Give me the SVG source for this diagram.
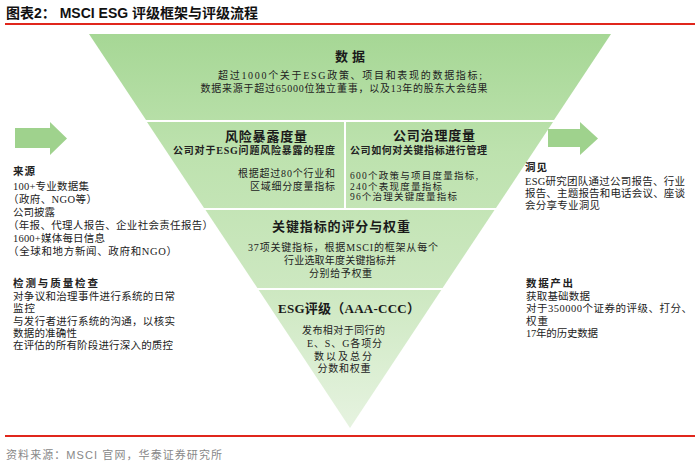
<svg xmlns="http://www.w3.org/2000/svg" width="700" height="463" viewBox="0 0 700 463">
<defs>
<linearGradient id="g" gradientUnits="userSpaceOnUse" x1="0" y1="34" x2="0" y2="428">
<stop offset="0" stop-color="#a6d795"/>
<stop offset="0.3" stop-color="#bde2ae"/>
<stop offset="0.65" stop-color="#cde8c1"/>
<stop offset="1" stop-color="#e6f3e0"/>
</linearGradient>
<style>
.t{font-family:"Liberation Serif","Noto Sans CJK SC",serif;fill:#222;font-size:10px}
.h{font-family:"Liberation Serif","Noto Sans CJK SC",serif;fill:#1a1a1a;font-size:13px;font-weight:bold}
.b{font-weight:bold}
.c{text-anchor:middle}
.band{fill:url(#g)}
.arrow{fill:#9fd28d}
.red{stroke:#e0261c;stroke-width:2}
</style>
</defs>
<text x="6" y="18" style="font-family:'Liberation Sans','Noto Sans CJK SC',sans-serif;font-size:14px;font-weight:bold;fill:#111">图表2：  MSCI ESG 评级框架与评级流程</text>
<line class="red" x1="5" y1="24" x2="695" y2="24"/>

<g id="band1">
<polygon class="band" points="89,34 611,34 554,120 146,120"/>
<text class="h c" x="350" y="61" textLength="30" lengthAdjust="spacing">数据</text>
<text class="t c" x="350" y="79" textLength="264" lengthAdjust="spacing">超过1000个关于ESG政策、项目和表现的数据指标;</text>
<text class="t c" x="344" y="92" textLength="287" lengthAdjust="spacing">数据来源于超过65000位独立董事，以及13年的股东大会结果</text>
</g>
<g id="band2-left">
<polygon class="band" points="147,122 344,122 344,208 204,208"/>
<text class="h c" x="266" y="141" textLength="82" lengthAdjust="spacing">风险暴露度量</text>
<text class="t b" x="173" y="154" textLength="162" lengthAdjust="spacing">公司对于ESG问题风险暴露的程度</text>
<text class="t" x="238" y="177" textLength="97" lengthAdjust="spacing">根据超过80个行业和</text>
<text class="t" x="250" y="190" textLength="85" lengthAdjust="spacing">区域细分度量指标</text>
</g>
<g id="band2-right">
<polygon class="band" points="346,122 553,122 496,208 346,208"/>
<text class="h c" x="434" y="140" textLength="82" lengthAdjust="spacing">公司治理度量</text>
<text class="t b" x="350" y="154" textLength="137" lengthAdjust="spacing">公司如何对关键指标进行管理</text>
<text class="t" x="350" y="179" style="font-size:9.5px" textLength="128" lengthAdjust="spacing">600个政策与项目度量指标,</text>
<text class="t" x="350" y="189.5" style="font-size:9.5px" textLength="92" lengthAdjust="spacing">240个表现度量指标</text>
<text class="t" x="350" y="200" style="font-size:9.5px" textLength="107" lengthAdjust="spacing">96个治理关键度量指标</text>
</g>
<g id="band3">
<polygon class="band" points="205.5,210 494.5,210 442.6,288 257.4,288"/>
<text class="h c" x="341" y="231" textLength="138" lengthAdjust="spacing">关键指标的评分与权重</text>
<text class="t c" x="343" y="251" textLength="190" lengthAdjust="spacing">37项关键指标，根据MSCI的框架从每个</text>
<text class="t c" x="340" y="264" textLength="112" lengthAdjust="spacing">行业选取年度关键指标并</text>
<text class="t c" x="340.5" y="277" textLength="63" lengthAdjust="spacing">分别给予权重</text>
</g>
<g id="band4">
<polygon class="band" points="258.7,290 441.3,290 350,428"/>
<text class="h c" x="349" y="313" textLength="142" lengthAdjust="spacing">ESG评级（AAA-CCC）</text>
<text class="t c" x="343.5" y="334" textLength="83" lengthAdjust="spacing">发布相对于同行的</text>
<text class="t c" x="344.5" y="347" textLength="75" lengthAdjust="spacing">E、S、G各项分</text>
<text class="t c" x="343" y="360" textLength="58" lengthAdjust="spacing">数以及总分</text>
<text class="t c" x="344" y="372" textLength="53" lengthAdjust="spacing">分数和权重</text>
</g>

<g id="arrow-left">
<polygon class="arrow" points="15,128 50,128 50,122 67,138.5 50,155 50,148 15,148"/>
</g>
<g id="arrow-right">
<polygon class="arrow" points="548,129 580,129 580,122 598,138.5 580,155 580,147 548,147"/>
</g>

<g id="sources" class="t" style="font-size:10.5px">
<text x="13" y="175" class="b" textLength="22" lengthAdjust="spacing">来源</text>
<text x="13" y="190" textLength="76" lengthAdjust="spacing">100+专业数据集</text>
<text x="8" y="203" textLength="89" lengthAdjust="spacing">（政府、NGO等）</text>
<text x="13" y="216" textLength="42" lengthAdjust="spacing">公司披露</text>
<text x="8" y="229" textLength="205" lengthAdjust="spacing">（年报、代理人报告、企业社会责任报告）</text>
<text x="13" y="242" textLength="92" lengthAdjust="spacing">1600+媒体每日信息</text>
<text x="8" y="255" textLength="169" lengthAdjust="spacing">（全球和地方新闻、政府和NGO）</text>
</g>
<g id="quality" class="t" style="font-size:10.5px">
<text x="13" y="287" class="b" textLength="85" lengthAdjust="spacing">检测与质量检查</text>
<text x="13" y="300" textLength="162" lengthAdjust="spacing">对争议和治理事件进行系统的日常</text>
<text x="13" y="312" textLength="22" lengthAdjust="spacing">监控</text>
<text x="13" y="325" textLength="162" lengthAdjust="spacing">与发行者进行系统的沟通，以核实</text>
<text x="13" y="337" textLength="64" lengthAdjust="spacing">数据的准确性</text>
<text x="13" y="349" textLength="160" lengthAdjust="spacing">在评估的所有阶段进行深入的质控</text>
</g>
<g id="insight" class="t" style="font-size:10.5px">
<text x="525" y="171" class="b" textLength="22" lengthAdjust="spacing">洞见</text>
<text x="525" y="185" textLength="160" lengthAdjust="spacing">ESG研究团队通过公司报告、行业</text>
<text x="525" y="197" textLength="160" lengthAdjust="spacing">报告、主题报告和电话会议、座谈</text>
<text x="525" y="209" textLength="75" lengthAdjust="spacing">会分享专业洞见</text>
</g>
<g id="output" class="t" style="font-size:10.5px">
<text x="526" y="287" class="b" textLength="47" lengthAdjust="spacing">数据产出</text>
<text x="526" y="300" textLength="64" lengthAdjust="spacing">获取基础数据</text>
<text x="526" y="312" textLength="166" lengthAdjust="spacing">对于350000个证券的评级、打分、</text>
<text x="526" y="325" textLength="22" lengthAdjust="spacing">权重</text>
<text x="526" y="337" textLength="72" lengthAdjust="spacing">17年的历史数据</text>
</g>

<line class="red" x1="5" y1="436" x2="695" y2="436"/>
<text x="6" y="459" style="font-family:'Liberation Sans','Noto Sans CJK SC',sans-serif;font-size:11px;fill:#888" textLength="216" lengthAdjust="spacing">资料来源：MSCI 官网，华泰证券研究所</text>
</svg>
